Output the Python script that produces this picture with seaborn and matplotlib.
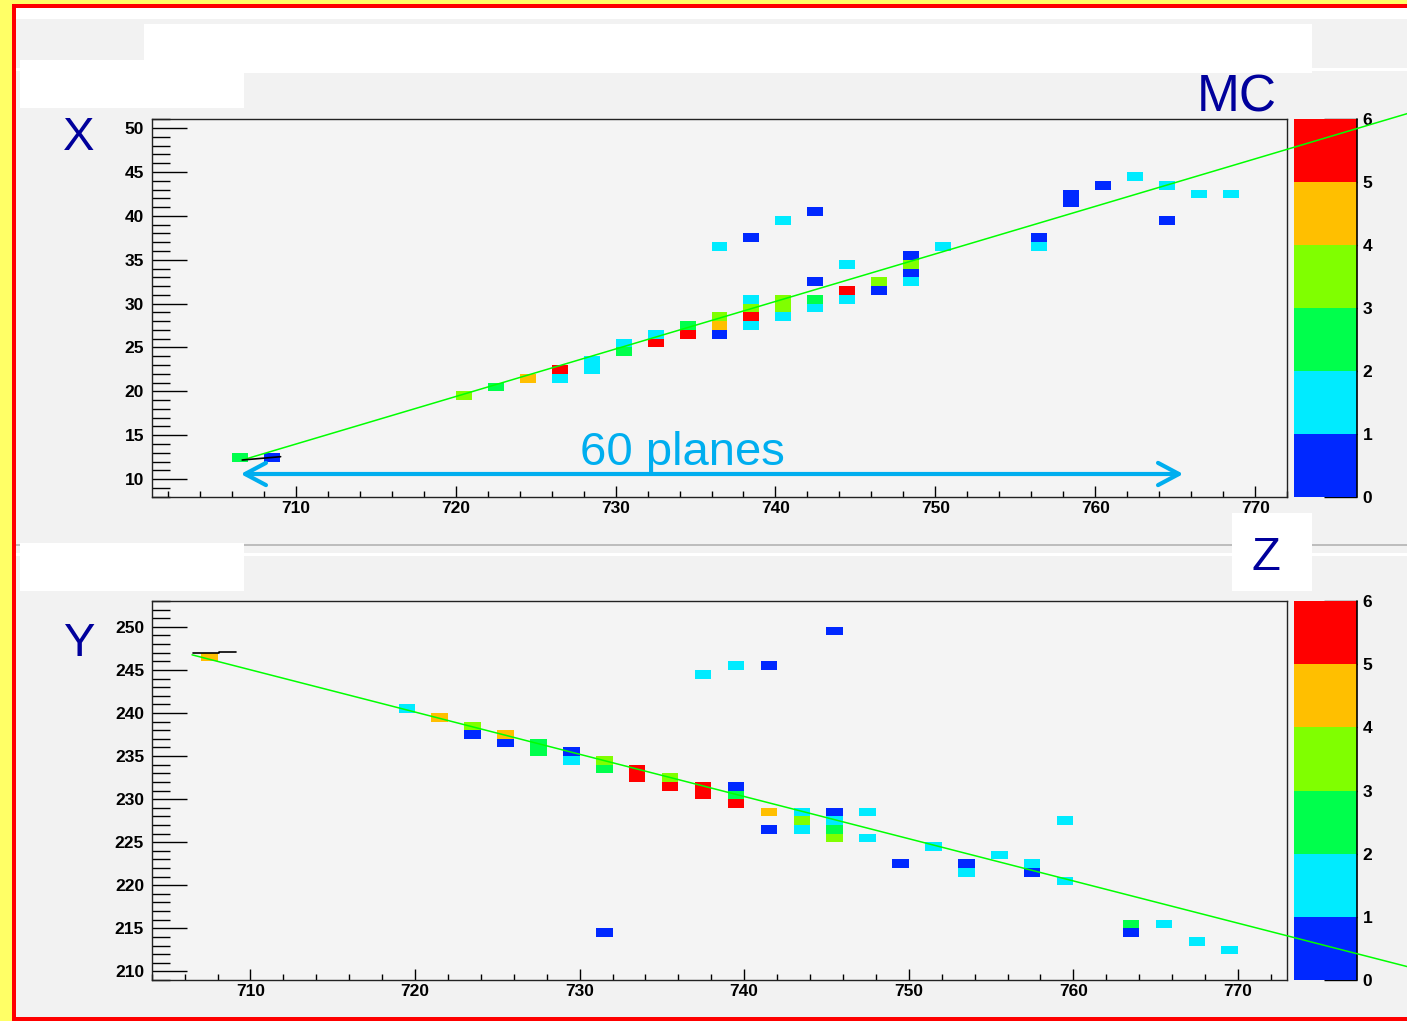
import matplotlib
matplotlib.use("Agg")
import matplotlib.pyplot as plt
from matplotlib.colors import ListedColormap
from matplotlib.patches import Rectangle
from matplotlib.ticker import MultipleLocator
import seaborn as sns

W, H = 1407, 1021

# colour palette, one colour per unit of charge (0-6)
level_colors = ['#0028ff', '#00ebff', '#00ff4c', '#80ff00', '#ffbf00', '#ff0000']
levels = [0, 1, 2, 3, 4, 5, 6]

# X view (top): hit cell centres (z, x) and charge
z_xview = [706.5, 708.5, 720.5, 722.5, 724.5, 726.5, 726.5, 728.5, 728.5, 730.5,
           730.5, 732.5, 732.5, 734.5, 734.5, 736.5, 736.5, 736.5, 736.5, 738.5,
           738.5, 738.5, 738.5, 738.5, 740.5, 740.5, 740.5, 740.5, 742.5, 742.5,
           742.5, 742.5, 744.5, 744.5, 744.5, 746.5, 746.5, 748.5, 748.5, 748.5,
           748.5, 750.5, 756.5, 756.5, 758.5, 758.5, 760.5, 762.5, 764.5, 764.5,
           766.5, 768.5]
x_xview = [12.5, 12.5, 19.5, 20.5, 21.5, 22.5, 21.5, 22.5, 23.5, 25.5,
           24.5, 26.5, 25.5, 27.5, 26.5, 28.5, 27.5, 26.5, 36.5, 30.5,
           29.5, 28.5, 27.5, 37.5, 30.5, 29.5, 28.5, 39.5, 40.5, 32.5,
           30.5, 29.5, 34.5, 31.5, 30.5, 32.5, 31.5, 35.5, 34.5, 33.5,
           32.5, 36.5, 37.5, 36.5, 41.5, 42.5, 43.5, 44.5, 43.5, 39.5,
           42.5, 42.5]
q_xview = [2.5, 0.5, 3.5, 2.5, 4.5, 5.5, 1.5, 1.5, 1.5, 1.5,
           2.5, 1.5, 5.5, 2.5, 5.5, 3.5, 4.5, 0.5, 1.5, 1.5,
           3.5, 5.5, 1.5, 0.5, 3.5, 3.5, 1.5, 1.5, 0.5, 0.5,
           2.5, 1.5, 1.5, 5.5, 1.5, 3.5, 0.5, 0.5, 3.5, 0.5,
           1.5, 1.5, 0.5, 1.5, 0.5, 0.5, 0.5, 1.5, 1.5, 0.5,
           1.5, 1.5]

# Y view (bottom): hit cell centres (z, y) and charge
z_yview = [707.5, 719.5, 721.5, 723.5, 723.5, 725.5, 725.5, 727.5, 727.5, 729.5,
           729.5, 731.5, 731.5, 731.5, 733.5, 733.5, 735.5, 735.5, 737.5, 737.5,
           737.5, 739.5, 739.5, 739.5, 739.5, 741.5, 741.5, 741.5, 743.5, 743.5,
           743.5, 745.5, 745.5, 745.5, 745.5, 745.5, 747.5, 747.5, 749.5, 751.5,
           753.5, 753.5, 755.5, 757.5, 757.5, 759.5, 759.5, 763.5, 763.5, 765.5,
           767.5, 769.5]
y_yview = [246.5, 240.5, 239.5, 238.5, 237.5, 237.5, 236.5, 236.5, 235.5, 235.5,
           234.5, 234.5, 233.5, 214.5, 233.5, 232.5, 232.5, 231.5, 231.5, 230.5,
           244.5, 231.5, 230.5, 229.5, 245.5, 228.5, 226.5, 245.5, 228.5, 227.5,
           226.5, 228.5, 227.5, 226.5, 225.5, 249.5, 228.5, 225.5, 222.5, 224.5,
           222.5, 221.5, 223.5, 222.5, 221.5, 227.5, 220.5, 215.5, 214.5, 215.5,
           213.5, 212.5]
q_yview = [4.5, 1.5, 4.5, 3.5, 0.5, 4.5, 0.5, 2.5, 2.5, 0.5,
           1.5, 3.5, 2.5, 0.5, 5.5, 5.5, 3.5, 5.5, 5.5, 5.5,
           1.5, 0.5, 2.5, 5.5, 1.5, 4.5, 0.5, 0.5, 1.5, 3.5,
           1.5, 0.5, 1.5, 2.5, 3.5, 0.5, 1.5, 1.5, 0.5, 1.5,
           0.5, 1.5, 1.5, 1.5, 0.5, 1.5, 1.5, 2.5, 0.5, 1.5,
           1.5, 1.5]

# fitted tracks and MC truth segments
fit_z_top, fit_x_top = [706.66, 779.5], [12.18, 51.65]
fit_z_bot, fit_y_bot = [706.45, 780.3], [246.75, 210.55]
mc_z_top, mc_x_top = [706.66, 709.06], [12.18, 12.56]
mc_z_bot, mc_y_bot = [706.5, 708.1, 708.1, 709.1], [246.92, 246.92, 247.08, 247.08]

sns.set_style("ticks")
plt.rcParams['font.family'] = ['Liberation Sans', 'DejaVu Sans']
plt.rcParams['font.weight'] = 'bold'

fig = plt.figure(figsize=(W / 100, H / 100), dpi=100)
fig.patch.set_facecolor('#ffff66')


def rect(x0, y0, x1, y1):
    return [x0 / W, 1 - y1 / H, (x1 - x0) / W, (y1 - y0) / H]


def box(x0, y0, x1, y1, color):
    r = rect(x0, y0, x1, y1)
    fig.add_artist(Rectangle((r[0], r[1]), r[2], r[3], transform=fig.transFigure,
                             facecolor=color, edgecolor='none', zorder=-10))


# canvas frame and the empty ROOT title / stat boxes
box(12, 4, W + 20, H + 20, '#ff0000')
box(16, 8, W + 20, 1017, '#f2f2f2')
box(16, 8, W + 20, 19, 'white')
box(16, 68, W + 20, 71, 'white')
box(16, 544, W + 20, 546, '#bdbdbd')
box(16, 553, W + 20, 556, 'white')
box(144, 24, 1312, 73, 'white')
box(20, 60, 244, 108, 'white')
box(20, 543, 244, 591, 'white')
box(1232, 513, 1312, 591, 'white')

cmap = ListedColormap(level_colors)

ax1 = fig.add_axes(rect(151.7, 119.3, 1287.3, 496.7))
cax1 = fig.add_axes(rect(1294.3, 119.3, 1357.3, 496.7))
ax2 = fig.add_axes(rect(151.7, 601, 1287.3, 980))
cax2 = fig.add_axes(rect(1294.3, 601, 1357.3, 980))


def draw_view(ax, cax, zs, vs, qs, zrange, vrange):
    sns.histplot(x=zs, y=vs, weights=qs, binwidth=1, binrange=(zrange, vrange),
                 cmap=cmap, vmin=0, vmax=6, cbar=True, cbar_ax=cax,
                 cbar_kws={'ticks': levels}, ax=ax)
    ax.set_xlim(*zrange)
    ax.set_ylim(*vrange)
    ax.set_xlabel('')
    ax.set_ylabel('')
    ax.set_facecolor('#f4f4f4')
    ax.xaxis.set_major_locator(MultipleLocator(10))
    ax.xaxis.set_minor_locator(MultipleLocator(2))
    ax.yaxis.set_major_locator(MultipleLocator(5))
    ax.yaxis.set_minor_locator(MultipleLocator(1))
    ax.tick_params(axis='y', which='major', direction='in', length=25, width=1,
                   color='black', labelcolor='black', labelsize=12.5, pad=5.5)
    ax.tick_params(axis='y', which='minor', direction='in', length=13, width=1,
                   color='black')
    ax.tick_params(axis='x', which='major', direction='in', length=8, width=1,
                   color='black', labelcolor='black', labelsize=12.5, pad=3)
    ax.tick_params(axis='x', which='minor', direction='in', length=4.3, width=1,
                   color='black')
    for s in ax.spines.values():
        s.set_visible(True)
        s.set_color('#222222')
        s.set_linewidth(1)
    ax.set_zorder(3)

    cbar = ax.collections[-1].colorbar
    cbar.outline.set_visible(False)
    cax.tick_params(direction='in', length=24, width=1, color='black',
                    labelcolor='black', labelsize=12.5, pad=4)
    cax.plot([1, 1], [0, 1], transform=cax.transAxes, color='black', lw=1.2,
             clip_on=False)


draw_view(ax1, cax1, z_xview, x_xview, q_xview, (701, 772), (8, 51))
draw_view(ax2, cax2, z_yview, y_yview, q_yview, (704, 773), (209, 253))

ax1.plot(fit_z_top, fit_x_top, color='#00ff00', lw=1.1, clip_on=False, zorder=5)
ax1.plot(mc_z_top, mc_x_top, color='black', lw=1.2, zorder=6)
ax2.plot(fit_z_bot, fit_y_bot, color='#00ff00', lw=1.1, clip_on=False, zorder=5)
ax2.plot(mc_z_bot, mc_y_bot, color='black', lw=1.2, zorder=6)

# 60 planes arrow and labels
ax1.annotate('', xy=(240.7, H - 474), xytext=(1183.3, H - 474),
             xycoords='figure pixels', textcoords='figure pixels',
             arrowprops=dict(arrowstyle='<->,head_length=1.5,head_width=0.8',
                             color='#00aeef', lw=3, mutation_scale=10,
                             shrinkA=0, shrinkB=0), zorder=7)
fig.text(682.5 / W, 1 - 465 / H, '60 planes', color='#00aeef', fontsize=34,
         fontweight='normal', ha='center', va='baseline', zorder=8)

navy = '#00009c'
fig.text(79 / W, 1 - 150 / H, 'X', color=navy, fontsize=34, fontweight='normal',
         ha='center', va='baseline')
fig.text(79.5 / W, 1 - 656 / H, 'Y', color=navy, fontsize=34, fontweight='normal',
         ha='center', va='baseline')
fig.text(1236.3 / W, 1 - 111.7 / H, 'MC', color=navy, fontsize=37,
         fontweight='normal', ha='center', va='baseline')
fig.text(1266 / W, 1 - 570 / H, 'Z', color=navy, fontsize=34, fontweight='normal',
         ha='center', va='baseline')

fig.savefig('out.png', dpi=100, facecolor=fig.get_facecolor())
